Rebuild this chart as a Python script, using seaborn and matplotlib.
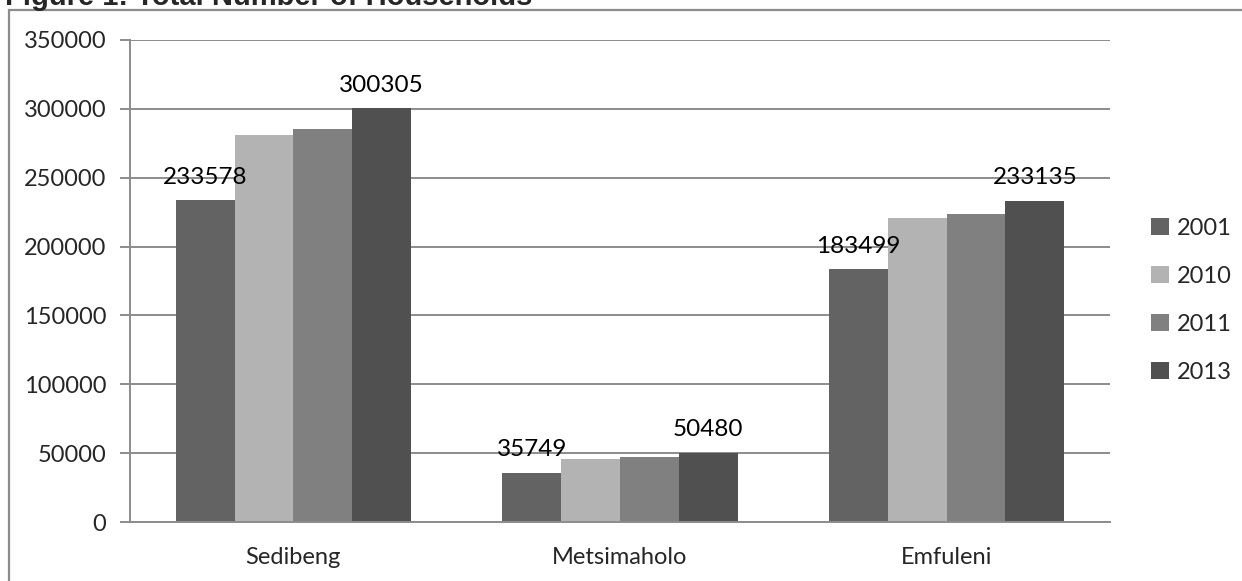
import matplotlib
matplotlib.use("Agg")
import matplotlib.pyplot as plt
import seaborn as sns
import pandas as pd
from matplotlib.patches import Rectangle

# Household counts per municipality and year
municipalities = ["Sedibeng", "Metsimaholo", "Emfuleni"]
years = ["2001", "2010", "2011", "2013"]
households_2001 = [233578, 35749, 183499]
households_2010 = [281200, 46000, 220700]
households_2011 = [285500, 47500, 223600]
households_2013 = [300305, 50480, 233135]
labelled_years = ["2001", "2013"]
y_ticks = [0, 50000, 100000, 150000, 200000, 250000, 300000, 350000]
title = "Figure 1: Total Number of Households"

series = {"2001": households_2001, "2010": households_2010,
          "2011": households_2011, "2013": households_2013}
rows = []
for yr in years:
    for m, v in zip(municipalities, series[yr]):
        rows.append({"Municipality": m, "Year": yr, "Households": v})
df = pd.DataFrame(rows)

palette = {"2001": "#636363", "2010": "#b3b3b3", "2011": "#808080", "2013": "#505050"}

sns.set_theme(style="white")
plt.rcParams["font.family"] = ["Lato", "DejaVu Sans"]
FS = 17

fig = plt.figure(figsize=(12.42, 5.81), dpi=100)
ax = fig.add_axes([0.1047, 0.1015, 0.789, 0.8297])

sns.barplot(data=df, x="Municipality", y="Households", hue="Year",
            hue_order=years, order=municipalities, palette=palette,
            width=0.72, saturation=1, ax=ax, legend=True, edgecolor="none")

ax.set_ylim(0, 350000)
ax.set_xlim(-0.5, 2.5)
ax.set_yticks(y_ticks)
ax.set_yticklabels([str(t) for t in y_ticks], fontsize=FS)
ax.set_xlabel("")
ax.set_ylabel("")
ax.grid(axis="y", color="#8c8c8c", linewidth=1.4)
ax.set_axisbelow(True)
for side in ["top", "right"]:
    ax.spines[side].set_visible(False)
for side in ["left", "bottom"]:
    ax.spines[side].set_color("#8c8c8c")
    ax.spines[side].set_linewidth(1.4)

# Category boundary ticks on x, outward ticks on y
ax.set_xticks([0, 1, 2])
ax.set_xticklabels(municipalities, fontsize=FS)
ax.tick_params(axis="x", length=0, pad=18)
ax.set_xticks([-0.5, 0.5, 1.5, 2.5], minor=True)
ax.tick_params(axis="x", which="minor", length=7, width=1.4, color="#8c8c8c", direction="out")
ax.tick_params(axis="y", length=7, width=1.4, color="#8c8c8c", direction="out", pad=10, left=True)

# Value labels for first and last years
for container, yr in zip(ax.containers, years):
    if yr in labelled_years:
        for bar, v in zip(container, series[yr]):
            ax.annotate(str(v), (bar.get_x() + bar.get_width() / 2, v),
                        xytext=(0, 9), textcoords="offset points",
                        ha="center", va="bottom", fontsize=FS + 0.5, color="black")

leg = ax.legend(loc="center left", bbox_to_anchor=(1.02, 0.46), frameon=False,
                fontsize=FS, handlelength=0.75, handleheight=0.75,
                handletextpad=0.35, labelspacing=1.15)

# Chart frame and clipped title
fig.patches.append(Rectangle((9 / 1242, -0.1), 1.2, 1 - 10 / 581 + 0.1,
                             transform=fig.transFigure, fill=False,
                             edgecolor="#8c8c8c", linewidth=1.6))
fig.text(0.004, 1 - 5 / 581, title, fontsize=21, fontweight="bold",
         family=["Liberation Sans", "DejaVu Sans"], va="baseline", ha="left")

fig.savefig("out.png", dpi=100)
